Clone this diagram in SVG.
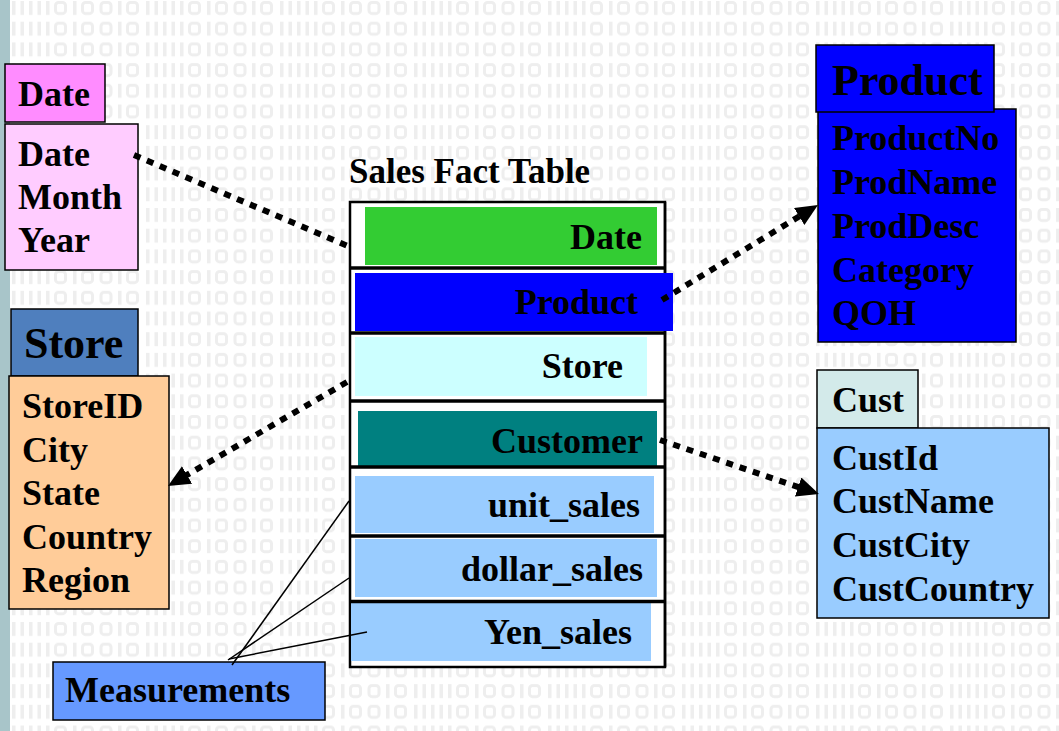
<svg xmlns="http://www.w3.org/2000/svg" xmlns:xlink="http://www.w3.org/1999/xlink" width="1059" height="731" viewBox="0 0 1059 731">
  <style>
    .t { font-family: "Liberation Serif", "Times New Roman", serif; font-weight: bold; fill: #000; font-size: 36px; }
    .h { font-size: 44px; }
    .r { text-anchor: end; }
    .box { stroke: #000; stroke-width: 1.5; }
    .dot { fill: none; stroke: #000; stroke-width: 6; stroke-dasharray: 7 7; }
    .thin { fill: none; stroke: #000; stroke-width: 1.5; }
    .bi { fill: #eeeeee; }
    .bo { fill: none; stroke: #eeeeee; stroke-width: 3; }
  </style>
  <defs>
    <g id="bitrow">
      <rect class="bi" x="0" y="0" width="3.5" height="14"/>
      <rect class="bi" x="8.5" y="0" width="3.5" height="14"/>
      <rect class="bi" x="17" y="0" width="3.5" height="14"/>
      <rect class="bi" x="25.5" y="0" width="3.5" height="14"/>
      <rect class="bi" x="34" y="0" width="3.5" height="14"/>
      <rect class="bo" x="43.5" y="1.5" width="10" height="11" rx="3"/>
      <rect class="bi" x="61" y="0" width="3.5" height="14"/>
      <rect class="bo" x="70.5" y="1.5" width="10" height="11" rx="3"/>
      <rect class="bo" x="89" y="1.5" width="10" height="11" rx="3"/>
      <rect class="bi" x="106" y="0" width="3.5" height="14"/>
      <rect class="bo" x="115.5" y="1.5" width="10" height="11" rx="3"/>
    </g>
    <pattern id="bits" x="12" y="1" width="134" height="41.4" patternUnits="userSpaceOnUse">
      <use xlink:href="#bitrow" x="0" y="0"/>
      <use xlink:href="#bitrow" x="0" y="20.7"/>
    </pattern>
    <marker id="arrow" markerUnits="userSpaceOnUse" markerWidth="24" markerHeight="22" refX="6" refY="10" orient="auto">
      <path d="M0,0 L22,10 L0,20 Z" fill="#000"/>
    </marker>
  </defs>

  <!-- background -->
  <rect x="0" y="0" width="1059" height="731" fill="#ffffff"/>
  <rect x="10" y="0" width="1049" height="731" fill="url(#bits)"/>
  <rect x="0" y="0" width="10" height="731" fill="#a8c5c9"/>

  <!-- Date dimension -->
  <g id="node-date">
    <rect class="box" x="5" y="64" width="100" height="58" fill="#ff8cff"/>
    <text class="t" x="18" y="106">Date</text>
    <rect class="box" x="5" y="124" width="133" height="146" fill="#ffccff"/>
    <text class="t" x="18" y="166">Date</text>
    <text class="t" x="18" y="209">Month</text>
    <text class="t" x="18" y="252">Year</text>
  </g>

  <!-- Store dimension -->
  <g id="node-store">
    <rect class="box" x="11" y="309" width="127" height="67" fill="#4f7fbe"/>
    <text class="t h" x="24" y="358">Store</text>
    <rect class="box" x="9" y="376" width="160" height="233" fill="#ffcc99"/>
    <text class="t" x="22" y="418">StoreID</text>
    <text class="t" x="22" y="462">City</text>
    <text class="t" x="22" y="505">State</text>
    <text class="t" x="22" y="549">Country</text>
    <text class="t" x="22" y="592">Region</text>
  </g>

  <!-- Sales fact table -->
  <g id="node-fact">
    <text class="t" x="349" y="183" style="font-size:35px">Sales Fact Table</text>
    <rect x="350" y="202" width="315" height="465" fill="#ffffff" stroke="#000" stroke-width="2.5"/>
    <rect x="365" y="207" width="292" height="58" fill="#33cc33"/>
    <text class="t r" x="642" y="249">Date</text>
    <rect x="355" y="273" width="318" height="58" fill="#0000ff"/>
    <text class="t r" x="638" y="314">Product</text>
    <rect x="355" y="337" width="292" height="59" fill="#ccffff"/>
    <text class="t r" x="623" y="378">Store</text>
    <rect x="358" y="411" width="299" height="56" fill="#008080"/>
    <text class="t r" x="643" y="453">Customer</text>
    <rect x="355" y="476" width="299" height="57" fill="#99ccff"/>
    <text class="t r" x="640" y="517">unit_sales</text>
    <rect x="355" y="539" width="302" height="58" fill="#99ccff"/>
    <text class="t r" x="643" y="581">dollar_sales</text>
    <rect x="351" y="603" width="300" height="58" fill="#99ccff"/>
    <text class="t r" x="632" y="644">Yen_sales</text>
    <g stroke="#000" stroke-width="3.5">
      <line x1="350" y1="268" x2="665" y2="268"/>
      <line x1="350" y1="333" x2="665" y2="333"/>
      <line x1="350" y1="401" x2="665" y2="401"/>
      <line x1="350" y1="467" x2="665" y2="467"/>
      <line x1="350" y1="536" x2="665" y2="536"/>
      <line x1="350" y1="601.5" x2="665" y2="601.5"/>
    </g>
    <line x1="665" y1="202" x2="665" y2="273" stroke="#000" stroke-width="2.5"/>
    <line x1="665" y1="331" x2="665" y2="667" stroke="#000" stroke-width="2.5"/>
  </g>

  <!-- Product dimension -->
  <g id="node-product">
    <rect class="box" x="818" y="109" width="198" height="233" fill="#0000ff"/>
    <rect class="box" x="816" y="45" width="178" height="67" fill="#0000ff"/>
    <text class="t h" x="832" y="95">Product</text>
    <text class="t" x="832" y="150">ProductNo</text>
    <text class="t" x="832" y="194">ProdName</text>
    <text class="t" x="832" y="238">ProdDesc</text>
    <text class="t" x="832" y="282">Category</text>
    <text class="t" x="832" y="325">QOH</text>
  </g>

  <!-- Customer dimension -->
  <g id="node-cust">
    <rect class="box" x="817" y="370" width="101" height="58" fill="#d3eaea"/>
    <text class="t" x="832" y="412">Cust</text>
    <rect class="box" x="817" y="428" width="232" height="190" fill="#99ccff"/>
    <text class="t" x="832" y="470">CustId</text>
    <text class="t" x="832" y="513">CustName</text>
    <text class="t" x="832" y="557">CustCity</text>
    <text class="t" x="832" y="601">CustCountry</text>
  </g>

  <!-- Measurements label -->
  <g id="node-measurements">
    <rect class="box" x="53" y="662" width="272" height="58" fill="#6699ff"/>
    <text class="t" x="65" y="702">Measurements</text>
  </g>

  <!-- connectors -->
  <g id="connectors">
    <line class="dot" x1="134" y1="155" x2="350" y2="247"/>
    <line class="dot" x1="662" y1="300" x2="804.3" y2="213.3" marker-end="url(#arrow)"/>
    <line class="dot" x1="347" y1="382" x2="181.8" y2="478" marker-end="url(#arrow)"/>
    <line class="dot" x1="660" y1="440" x2="803.8" y2="488.9" marker-end="url(#arrow)"/>
    <line class="thin" x1="232" y1="665" x2="349" y2="501"/>
    <line class="thin" x1="228" y1="660" x2="349" y2="578"/>
    <line class="thin" x1="229" y1="659" x2="367" y2="632"/>
  </g>
</svg>
